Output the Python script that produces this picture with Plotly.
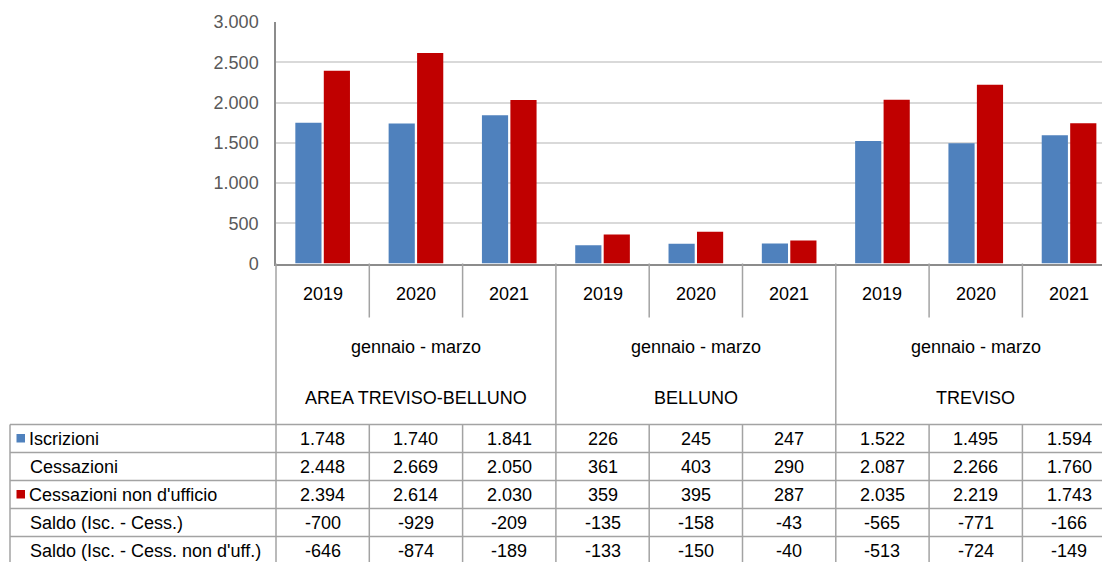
import plotly.graph_objects as go

# ---------------- data ----------------
groups = ["AREA TREVISO-BELLUNO", "BELLUNO", "TREVISO"]
period = "gennaio - marzo"
years = ["2019", "2020", "2021", "2019", "2020", "2021", "2019", "2020", "2021"]

iscrizioni = [1748, 1740, 1841, 226, 245, 247, 1522, 1495, 1594]
cessazioni = [2448, 2669, 2050, 361, 403, 290, 2087, 2266, 1760]
cess_non_uff = [2394, 2614, 2030, 359, 395, 287, 2035, 2219, 1743]
saldo = [-700, -929, -209, -135, -158, -43, -565, -771, -166]
saldo_non_uff = [-646, -874, -189, -133, -150, -40, -513, -724, -149]

row_labels = ["Iscrizioni", "Cessazioni", "Cessazioni non d'ufficio",
              "Saldo (Isc. - Cess.)", "Saldo (Isc. - Cess. non d'uff.)"]
rows = [iscrizioni, cessazioni, cess_non_uff, saldo, saldo_non_uff]

BLUE = "#4F81BD"
RED = "#C00000"

# ---------------- geometry (window pixels) ----------------
W, H = 1102, 562
X0 = 276.0        # left edge of plot / first category
CW = 93.3         # category width
Y_TOP = 22.0      # pixel of 3000
Y_BASE = 263.5    # pixel of 0
FONT = "Liberation Sans, Arial, sans-serif"
FS = 18.0

def px(x):
    return x / W

def py(y):
    return 1 - y / H

n = len(years)
x_idx = list(range(n))
x_max = (W - X0) / CW - 0.5

def col_edge(i):
    return X0 + i * CW

def col_center(i):
    return X0 + (i + 0.5) * CW

fig = go.Figure()
fig.add_trace(go.Bar(x=x_idx, y=iscrizioni, name="Iscrizioni",
                     marker=dict(color=BLUE, line=dict(width=0))))
fig.add_trace(go.Bar(x=x_idx, y=cess_non_uff, name="Cessazioni non d'ufficio",
                     marker=dict(color=RED, line=dict(width=0))))

shapes = []
LINE = dict(color="#a3a3a3", width=1.5)

def hline(y, x1, x2):
    shapes.append(dict(type="line", xref="paper", yref="paper",
                       x0=px(x1), x1=px(x2), y0=py(y), y1=py(y), line=LINE))

def vline(x, y1, y2):
    shapes.append(dict(type="line", xref="paper", yref="paper",
                       x0=px(x), x1=px(x), y0=py(y1), y1=py(y2), line=LINE))

TABLE_TOP = 424.5
ROW_H = 28.0
YEAR_BOTTOM = 317.5
LEFT = 10.0

vline(X0, Y_BASE, H + 2)
vline(LEFT, TABLE_TOP, H + 2)
for i in range(1, n + 1):
    x = col_edge(i)
    if x > W:
        continue
    if i % 3 == 0:
        vline(x, Y_BASE, H + 2)
    else:
        vline(x, Y_BASE, YEAR_BOTTOM)
        vline(x, TABLE_TOP, H + 2)
for r in range(len(rows)):
    hline(TABLE_TOP + r * ROW_H, LEFT, W + 2)

for r, c in [(0, BLUE), (2, RED)]:
    yc = TABLE_TOP + (r + 0.5) * ROW_H
    shapes.append(dict(type="rect", xref="paper", yref="paper",
                       x0=px(16.5), x1=px(25), y0=py(yc - 4.5), y1=py(yc + 4),
                       fillcolor=c, line=dict(width=0)))

annotations = []

def txt(x, y, s, anchor="center"):
    annotations.append(dict(xref="paper", yref="paper", x=px(x), y=py(y),
                            text=s, showarrow=False, xanchor=anchor,
                            yanchor="middle",
                            font=dict(family=FONT, size=FS, color="#000000")))

for i, yr in enumerate(years):
    txt(col_center(i), 293.5, yr)
for g, name in enumerate(groups):
    cx = col_center(3 * g + 1)
    txt(cx, 347, period)
    txt(cx, 398, name)

def fmt(v):
    return f"{v:,}".replace(",", ".")

for r, (lab, vals) in enumerate(zip(row_labels, rows)):
    yc = TABLE_TOP + (r + 0.5) * ROW_H + 0.5
    txt(27 if r in (0, 2) else 28, yc, lab, anchor="left")
    for i, v in enumerate(vals):
        txt(col_center(i), yc, fmt(v))

fig.update_layout(
    width=W, height=H,
    margin=dict(l=0, r=0, t=0, b=0, pad=0),
    paper_bgcolor="white", plot_bgcolor="white",
    showlegend=False,
    hovermode=False,
    barmode="group", bargap=0.39, bargroupgap=0.08,
    separators=",.",
    shapes=shapes, annotations=annotations,
    font=dict(family=FONT, size=FS, color="#000000"),
    xaxis=dict(domain=[px(X0), 1], range=[-0.5, x_max], showgrid=False,
               zeroline=False, showticklabels=False, ticks="",
               showline=True, linecolor="#8c8c8c", linewidth=1.5,
               fixedrange=True),
    yaxis=dict(domain=[py(Y_BASE), py(Y_TOP)], range=[0, 3000], dtick=500,
               tickformat=",d", showgrid=True, gridcolor="#d9d9d9",
               gridwidth=1.5, zeroline=False, ticks="",
               ticklabelstandoff=12, automargin=False,
               showline=True, linecolor="#8c8c8c", linewidth=1.5,
               tickfont=dict(family=FONT, size=FS, color="#595959")),
)

fig.write_html(
    "out.html",
    config={"displayModeBar": False},
    post_script="document.body.style.margin='0';"
                "document.body.style.overflow='hidden';",
)
